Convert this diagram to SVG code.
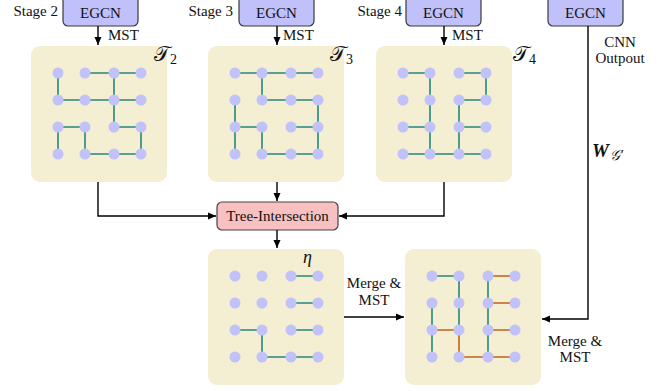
<svg xmlns="http://www.w3.org/2000/svg" width="658" height="391" viewBox="0 0 658 391" font-family="'Liberation Serif', 'Times New Roman', Times, serif">
<defs>
<marker id="ah" markerUnits="userSpaceOnUse" markerWidth="10" markerHeight="10" refX="9" refY="5" orient="auto">
<path d="M1,1.5 L9,5 L1,8.5 Z" fill="#000"/>
</marker>
<g id="nodes" fill="#c2c2fa">
<circle cx="27" cy="27" r="5.5"/><circle cx="54" cy="27" r="5.5"/><circle cx="83" cy="27" r="5.5"/><circle cx="110" cy="27" r="5.5"/>
<circle cx="27" cy="54" r="5.5"/><circle cx="54" cy="54" r="5.5"/><circle cx="83" cy="54" r="5.5"/><circle cx="110" cy="54" r="5.5"/>
<circle cx="27" cy="81" r="5.5"/><circle cx="54" cy="81" r="5.5"/><circle cx="83" cy="81" r="5.5"/><circle cx="110" cy="81" r="5.5"/>
<circle cx="27" cy="108" r="5.5"/><circle cx="54" cy="108" r="5.5"/><circle cx="83" cy="108" r="5.5"/><circle cx="110" cy="108" r="5.5"/>
</g>
</defs>
<style>
.panel{fill:#f4eed3;}
.te{fill:none;stroke:#23877e;stroke-width:1.6;}
.or{fill:none;stroke:#c0621c;stroke-width:1.6;}
.egcn{fill:#c0c0fb;stroke:#3a3a3a;stroke-width:1.2;}
.ti{fill:#f8c0c0;stroke:#444;stroke-width:1.2;}
text{font-family:'Liberation Serif','Times New Roman',Times,serif;font-size:15px;fill:#111;}
.m{text-anchor:middle;}
.e{text-anchor:end;}
.c{fill:none;stroke:#000;stroke-width:1.4;}
</style>

<g id="egcn1"><rect class="egcn" x="63" y="-6" width="75" height="32" rx="5"/><text class="m" x="100.5" y="18">EGCN</text><text class="e" x="58" y="16">Stage 2</text></g>
<g id="egcn2"><rect class="egcn" x="239" y="-6" width="75" height="32" rx="5"/><text class="m" x="276.5" y="18">EGCN</text><text class="e" x="233" y="16">Stage 3</text></g>
<g id="egcn3"><rect class="egcn" x="406" y="-6" width="75" height="32" rx="5"/><text class="m" x="443.5" y="18">EGCN</text><text class="e" x="402" y="16">Stage 4</text></g>
<g id="egcn4"><rect class="egcn" x="548" y="-6" width="75" height="32" rx="5"/><text class="m" x="585.5" y="18">EGCN</text></g>

<g id="tree2" transform="translate(31,46)">
<rect class="panel" width="136" height="136" rx="9"/>
<path class="te" d="M54 27H110M27 27V54H110M83 27V81H110M27 81H54V108H110M27 81V108M110 81V108"/>
<use href="#nodes"/>
</g>
<text x="154" y="61" style="font-size:21px">𝒯<tspan style="font-size:14px" dy="3">2</tspan></text>

<g id="tree3" transform="translate(208,46)">
<rect class="panel" width="136" height="136" rx="9"/>
<path class="te" d="M27 27H110M54 27V54H110M27 54V108M110 54V108M27 81H54V108H110M83 81H110"/>
<use href="#nodes"/>
</g>
<text x="330" y="61" style="font-size:21px">𝒯<tspan style="font-size:14px" dy="3">3</tspan></text>

<g id="tree4" transform="translate(376,46)">
<rect class="panel" width="136" height="136" rx="9"/>
<path class="te" d="M27 27H54V108M83 27H110V54H83V108M27 81H54M83 81H110M27 108H110"/>
<use href="#nodes"/>
</g>
<text x="513" y="61" style="font-size:21px">𝒯<tspan style="font-size:14px" dy="3">4</tspan></text>

<g id="treeint"><rect class="ti" x="217" y="202" width="121" height="28" rx="5"/><text class="m" x="277.5" y="221">Tree-Intersection</text></g>

<g id="eta" transform="translate(208,249)">
<rect class="panel" width="136" height="136" rx="9"/>
<path class="te" d="M83 27H110M83 54H110M27 81H54V108H110M83 81H110"/>
<use href="#nodes"/>
<text class="m" x="99.5" y="14" font-style="italic" style="font-size:18px">η</text>
</g>

<g id="final" transform="translate(405,249)">
<rect class="panel" width="136" height="136" rx="9"/>
<path class="te" d="M27 27H54V81M27 54V108M83 27V108"/>
<path class="or" d="M83 27H110M83 54H110M83 81H110M83 108H110M27 81H54M54 81V108H83"/>
<use href="#nodes"/>
</g>

<g id="connectors">
<path class="c" d="M98 26V45" marker-end="url(#ah)"/>
<path class="c" d="M277 26V45" marker-end="url(#ah)"/>
<path class="c" d="M444 26V45" marker-end="url(#ah)"/>
<path class="c" d="M98 182V216H216" marker-end="url(#ah)"/>
<path class="c" d="M277 182V201" marker-end="url(#ah)"/>
<path class="c" d="M444 182V216H339" marker-end="url(#ah)"/>
<path class="c" d="M277 230V248" marker-end="url(#ah)"/>
<path class="c" d="M344 317H404" marker-end="url(#ah)"/>
<path class="c" d="M588 26V319H542" marker-end="url(#ah)"/>
<text x="108" y="40">MST</text>
<text x="283" y="40">MST</text>
<text x="452" y="40">MST</text>
<text class="m" x="374" y="288">Merge &amp;</text>
<text class="m" x="374" y="305">MST</text>
<text class="m" x="575" y="346">Merge &amp;</text>
<text class="m" x="575" y="362">MST</text>
<text class="m" x="620" y="47">CNN</text>
<text class="m" x="620" y="63">Outpout</text>
<text x="592" y="157" font-weight="bold" font-style="italic" style="font-size:19px">W<tspan style="font-size:14px" font-weight="normal" dx="1" dy="3">𝒢′</tspan></text>
</g>
</svg>
